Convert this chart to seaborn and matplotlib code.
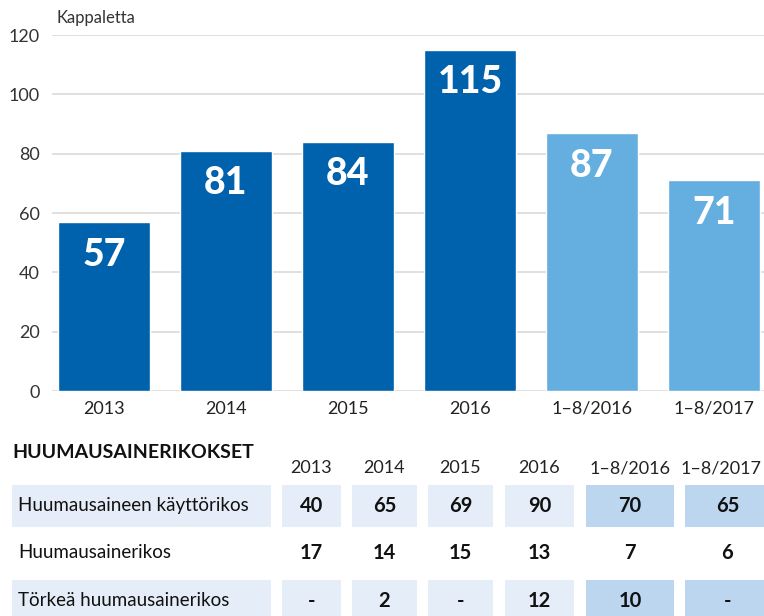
import pandas as pd
import seaborn as sns
import matplotlib.pyplot as plt

# Tiedot
periods = ["2013", "2014", "2015", "2016", "1–8/2016", "1–8/2017"]
totals = [57, 81, 84, 115, 87, 71]
bar_colors = ["#0061AD", "#0061AD", "#0061AD", "#0061AD", "#64AEE0", "#64AEE0"]

row_labels = ["Huumausaineen käyttörikos", "Huumausainerikos", "Törkeä huumausainerikos"]
use_crimes = ["40", "65", "69", "90", "70", "65"]
drug_crimes = ["17", "14", "15", "13", "7", "6"]
aggravated = ["-", "2", "-", "12", "10", "-"]

sns.set_theme(style="white")
plt.rcParams["font.family"] = ["Lato", "DejaVu Sans"]

df = pd.DataFrame({"period": periods, "total": totals})

fig = plt.figure(figsize=(7.64, 6.16), dpi=100)
W, H = 764, 616

# Pylväskaavio
ax = fig.add_axes([52 / W, (H - 391) / H, 712 / W, 356 / H])
sns.barplot(data=df, x="period", y="total", hue="period", palette=bar_colors,
            width=0.754, legend=False, saturation=1, ax=ax)
ax.set_ylim(0, 120)
ax.set_xlim(-0.426, 5.41)
ax.set_yticks(range(0, 121, 20))
ax.yaxis.grid(True, color="#dddddd", linewidth=1.3)
ax.set_axisbelow(True)
sns.despine(ax=ax, left=True, bottom=True, top=True, right=True)
ax.set_xlabel("")
ax.set_ylabel("")
ax.tick_params(axis="y", length=0, pad=9, labelsize=13, labelcolor="#333333")
ax.tick_params(axis="x", length=0, pad=7, labelsize=13, labelcolor="#222222")

for i, v in enumerate(totals):
    ax.text(i, v - 11, str(v), ha="center", va="center", color="white",
            fontsize=27, fontweight="black")

fig.text(57 / W, 1 - 18 / H, "Kappaletta", fontsize=12, color="#333333",
         va="center", ha="left")

# Taulukko
tb = fig.add_axes([0, 0, 1, 186 / H])
tb.set_xlim(0, W)
tb.set_ylim(616, 430)
tb.axis("off")

col_edges = [(282, 341), (352, 417), (428, 493), (505, 574), (586, 674), (685, 770)]
light = "#E5EEF8"
mid = "#BCD6F0"
row_spans = [(485, 527), (531, 575), (580, 622)]
row_values = [use_crimes, drug_crimes, aggravated]

tb.text(12, 452, "HUUMAUSAINERIKOKSET", fontsize=14, fontweight="bold",
        color="#111111", va="center", ha="left")
for (x0, x1), p in zip(col_edges, periods):
    xc = min((x0 + x1) / 2, 721)
    tb.text(xc, 468, p, fontsize=13, color="#222222",
            va="center", ha="center")

for r, (label, vals) in enumerate(zip(row_labels, row_values)):
    y0, y1 = row_spans[r]
    yc = (y0 + y1) / 2
    shaded = r != 1
    if shaded:
        tb.add_patch(plt.Rectangle((12, y0), 271 - 12, y1 - y0, color=light, lw=0))
    tb.text(18, yc, label, fontsize=13.5, color="#111111", va="center", ha="left")
    for c, ((x0, x1), v) in enumerate(zip(col_edges, vals)):
        if shaded:
            tb.add_patch(plt.Rectangle((x0, y0), x1 - x0, y1 - y0,
                                       color=mid if c >= 4 else light, lw=0))
        tb.text((x0 + x1) / 2, yc, v, fontsize=14.5, fontweight="bold",
                color="#111111", va="center", ha="center")

fig.savefig("out.png", dpi=100)
